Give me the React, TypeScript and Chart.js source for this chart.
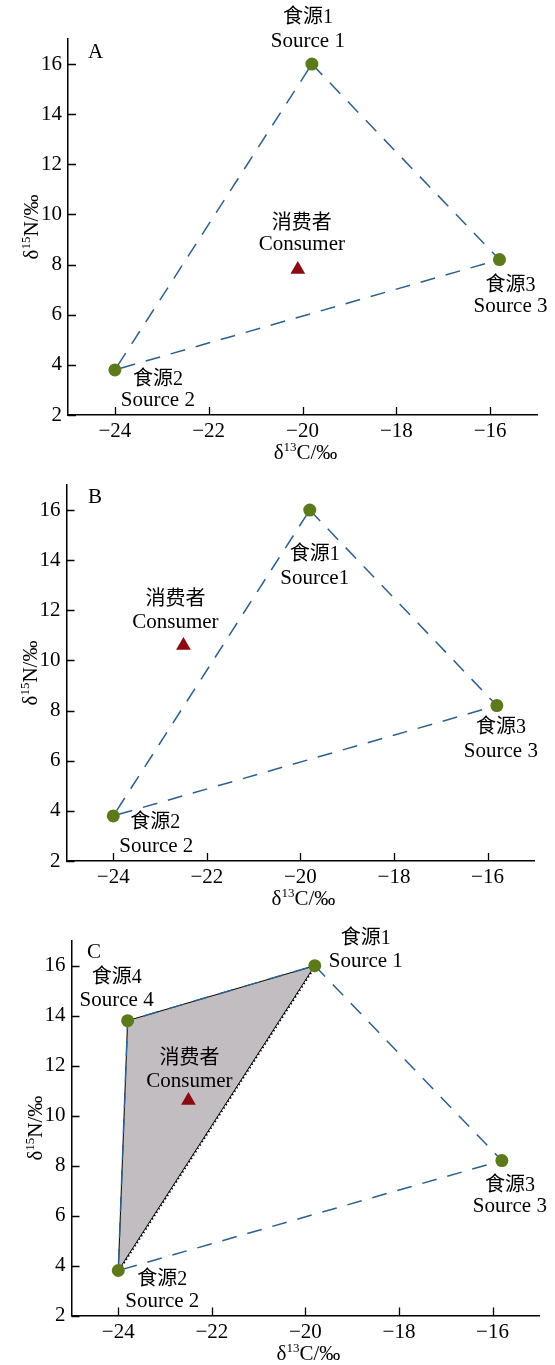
import React, { useEffect, useRef } from 'react';
import { Chart, registerables } from 'chart.js';

Chart.register(...registerables);

// ---------- data ----------
const xTicks = [-24, -22, -20, -18, -16];
const yTicks = [2, 4, 6, 8, 10, 12, 14, 16];
const X_MIN = -25;
const X_MAX = -15;
const Y_MIN = 2;
const Y_MAX = 17;

const sourceZh = ['食源1', '食源2', '食源3', '食源4'];
const sourceEnA = ['Source 1', 'Source 2', 'Source 3'];
const sourceEnB = ['Source1', 'Source 2', 'Source 3'];
const sourceEnC = ['Source 1', 'Source 2', 'Source 3', 'Source 4'];
const consumerZh = '消费者';
const consumerEn = 'Consumer';

const sourceXA = [-19.8, -24.0, -15.8];
const sourceYA = [16.0, 3.8, 8.2];
const consumerXA = -20.1;
const consumerYA = 7.8;

const sourceXB = [-19.8, -24.0, -15.8];
const sourceYB = [16.0, 3.8, 8.2];
const consumerXB = -22.5;
const consumerYB = 10.6;

const sourceXC = [-19.8, -24.0, -15.8, -23.8];
const sourceYC = [16.0, 3.8, 8.2, 13.8];
const consumerXC = -22.5;
const consumerYC = 10.6;

// ---------- styles ----------
const FONT = "'Liberation Serif', 'Times New Roman', 'Noto Sans CJK SC', serif";
const GREEN = '#5c7a1a';
const RED = '#8c0a12';
const BLUE = '#2d5f8c';
const GRAY = '#c2bdc1';

type Off = [number, number];
type Panel = {
  id: string;
  top: number;
  height: number;
  area: { left: number; right: number; top: number; bottom: number };
  letter: [number, number];
  sx: number[];
  sy: number[];
  cx: number;
  cy: number;
  en: string[];
  outer: number[];
  inner: number[] | null;
  edge: number[] | null;
  srcOff: { zh: Off; en: Off }[];
  conOff: { zh: Off; en: Off };
};

const panels: Panel[] = [
  {
    id: 'A', top: 0, height: 470,
    area: { left: 68, right: 537, top: 39, bottom: 415 },
    letter: [88, 52],
    sx: sourceXA, sy: sourceYA, cx: consumerXA, cy: consumerYA, en: sourceEnA,
    outer: [0, 2, 1, 0], inner: null, edge: null,
    srcOff: [
      { zh: [-4, -46], en: [-4, -23] },
      { zh: [43, 10], en: [43, 31] },
      { zh: [11, 26], en: [11, 47] },
    ],
    conOff: { zh: [4, -46], en: [4, -25] },
  },
  {
    id: 'B', top: 455, height: 470,
    area: { left: 66.5, right: 534.3, top: 30, bottom: 406 },
    letter: [88, 42],
    sx: sourceXB, sy: sourceYB, cx: consumerXB, cy: consumerYB, en: sourceEnB,
    outer: [0, 2, 1, 0], inner: null, edge: null,
    srcOff: [
      { zh: [5, 45], en: [5, 68] },
      { zh: [42, 7], en: [43, 31] },
      { zh: [4, 22], en: [4, 46] },
    ],
    conOff: { zh: [-8, -46], en: [-8, -23] },
  },
  {
    id: 'C', top: 910, height: 455,
    area: { left: 71.5, right: 539.3, top: 30.7, bottom: 405.5 },
    letter: [87, 42],
    sx: sourceXC, sy: sourceYC, cx: consumerXC, cy: consumerYC, en: sourceEnC,
    outer: [0, 2, 1, 3, 0], inner: [3, 0, 1, 3], edge: [0, 1],
    srcOff: [
      { zh: [51, -27], en: [51, -4] },
      { zh: [44, 9], en: [44, 31] },
      { zh: [8, 25], en: [8, 46] },
      { zh: [-11, -43], en: [-11, -20] },
    ],
    conOff: { zh: [1, -42], en: [1, -19] },
  },
];

const fmt = (v: number) => (v < 0 ? '\u2212' + Math.abs(v) : String(v));

function drawRich(ctx: CanvasRenderingContext2D, parts: [string, number, number][], cx: number, cy: number) {
  let total = 0;
  const widths = parts.map(([t, s]) => {
    ctx.font = `${s}px ${FONT}`;
    const w = ctx.measureText(t).width;
    total += w;
    return w;
  });
  let x = cx - total / 2;
  ctx.textAlign = 'left';
  ctx.textBaseline = 'alphabetic';
  parts.forEach(([t, s, raise], i) => {
    ctx.font = `${s}px ${FONT}`;
    ctx.fillText(t, x, cy + 7 - raise);
    x += widths[i];
  });
}

function buildConfig(p: Panel): any {
  const pt = (i: number) => ({ x: p.sx[i], y: p.sy[i] });
  const datasets: any[] = [
    {
      label: 'sources',
      data: p.sx.map((_, i) => pt(i)),
      showLine: false,
      pointRadius: 6.5,
      pointBackgroundColor: GREEN,
      pointBorderColor: GREEN,
      pointBorderWidth: 0,
      order: 0,
    },
    {
      label: 'consumer',
      data: [{ x: p.cx, y: p.cy }],
      showLine: false,
      pointStyle: 'triangle',
      pointRadius: 8.5,
      pointBackgroundColor: RED,
      pointBorderColor: RED,
      pointBorderWidth: 0,
      order: 0,
    },
    {
      label: 'outer',
      data: p.outer.map(pt),
      showLine: true,
      pointRadius: 0,
      borderColor: BLUE,
      borderWidth: 1.5,
      borderDash: [15, 11],
      fill: false,
      tension: 0,
      order: 1,
    },
  ];
  if (p.inner) {
    datasets.push({
      label: 'inner',
      data: p.inner.map(pt),
      showLine: true,
      pointRadius: 0,
      borderColor: '#000',
      borderWidth: 1,
      backgroundColor: GRAY,
      fill: 'shape',
      tension: 0,
      order: 2,
    });
  }
  if (p.edge) {
    datasets.push({
      label: 'edge',
      data: p.edge.map(pt),
      showLine: true,
      pointRadius: 0,
      borderColor: '#000',
      borderWidth: 3.4,
      borderDash: [1.4, 2.6],
      fill: false,
      tension: 0,
      order: 3,
    });
  }

  const decor = {
    id: 'decor' + p.id,
    afterDraw(chart: any) {
      const ctx: CanvasRenderingContext2D = chart.ctx;
      const xs = chart.scales.x;
      const ys = chart.scales.y;
      const a = chart.chartArea;
      ctx.save();
      // inner tick marks
      ctx.strokeStyle = '#000';
      ctx.lineWidth = 1.3;
      ctx.beginPath();
      xTicks.forEach((v) => {
        const x = Math.round(xs.getPixelForValue(v)) + 0.5;
        ctx.moveTo(x, a.bottom);
        ctx.lineTo(x, a.bottom - 8);
      });
      yTicks.forEach((v) => {
        const y = Math.round(ys.getPixelForValue(v)) + 0.5;
        ctx.moveTo(a.left, y);
        ctx.lineTo(a.left + 8, y);
      });
      ctx.stroke();

      ctx.fillStyle = '#000';
      // panel letter
      ctx.font = `21px ${FONT}`;
      ctx.textAlign = 'left';
      ctx.textBaseline = 'middle';
      ctx.fillText(p.id, p.letter[0], p.letter[1]);

      // axis titles
      drawRich(ctx, [['δ', 21, 0], ['13', 13, 8], ['C/‰', 21, 0]], (a.left + a.right) / 2 + 3, a.bottom + 37);
      ctx.save();
      ctx.translate(a.left - 37, (a.top + a.bottom) / 2);
      ctx.rotate(-Math.PI / 2);
      drawRich(ctx, [['δ', 21, 0], ['15', 13, 8], ['N/‰', 21, 0]], 0, 0);
      ctx.restore();

      // annotations
      const label = (px: number, py: number, zh: string, en: string, o: { zh: Off; en: Off }) => {
        ctx.textAlign = 'center';
        ctx.textBaseline = 'middle';
        ctx.font = `20px ${FONT}`;
        ctx.fillText(zh, px + o.zh[0], py + o.zh[1]);
        ctx.font = `21px ${FONT}`;
        ctx.fillText(en, px + o.en[0], py + o.en[1]);
      };
      p.sx.forEach((x, i) => {
        label(xs.getPixelForValue(x), ys.getPixelForValue(p.sy[i]), sourceZh[i], p.en[i], p.srcOff[i]);
      });
      label(xs.getPixelForValue(p.cx), ys.getPixelForValue(p.cy), consumerZh, consumerEn, p.conOff);
      ctx.restore();
    },
  };

  return {
    type: 'scatter',
    data: { datasets },
    plugins: [decor],
    options: {
      animation: false,
      responsive: false,
      devicePixelRatio: 1,
      layout: { padding: { left: 0, top: p.area.top, right: 555 - p.area.right, bottom: 0 } },
      plugins: { legend: { display: false }, tooltip: { enabled: false } },
      scales: {
        x: {
          type: 'linear',
          min: X_MIN,
          max: X_MAX,
          grid: { display: false, drawTicks: false },
          border: { display: true, color: '#000', width: 1.5 },
          ticks: { padding: 4, color: '#000', font: { size: 21, family: FONT }, callback: (v: number) => fmt(v) },
          afterBuildTicks: (s: any) => { s.ticks = xTicks.map((v) => ({ value: v })); },
          afterFit: (s: any) => { s.height = p.height - p.area.bottom; },
        },
        y: {
          type: 'linear',
          min: Y_MIN,
          max: Y_MAX,
          grid: { display: false, drawTicks: false },
          border: { display: true, color: '#000', width: 1.5 },
          ticks: { padding: 6, color: '#000', font: { size: 21, family: FONT }, callback: (v: number) => fmt(v) },
          afterBuildTicks: (s: any) => { s.ticks = yTicks.map((v) => ({ value: v })); },
          afterFit: (s: any) => { s.width = p.area.left; },
        },
      },
    },
  };
}

function PanelChart({ p }: { p: Panel }) {
  const ref = useRef<HTMLCanvasElement>(null);
  useEffect(() => {
    const chart = new Chart(ref.current as HTMLCanvasElement, buildConfig(p));
    return () => chart.destroy();
  }, [p]);
  return (
    <canvas
      ref={ref}
      width={555}
      height={p.height}
      style={{ position: 'absolute', left: 0, top: p.top, width: 555, height: p.height, display: 'block' }}
    />
  );
}

export default function App() {
  return (
    <div style={{ position: 'absolute', left: 0, top: 0, width: 555, height: 1365, background: '#fff' }}>
      {panels.map((p) => (
        <PanelChart key={p.id} p={p} />
      ))}
    </div>
  );
}
